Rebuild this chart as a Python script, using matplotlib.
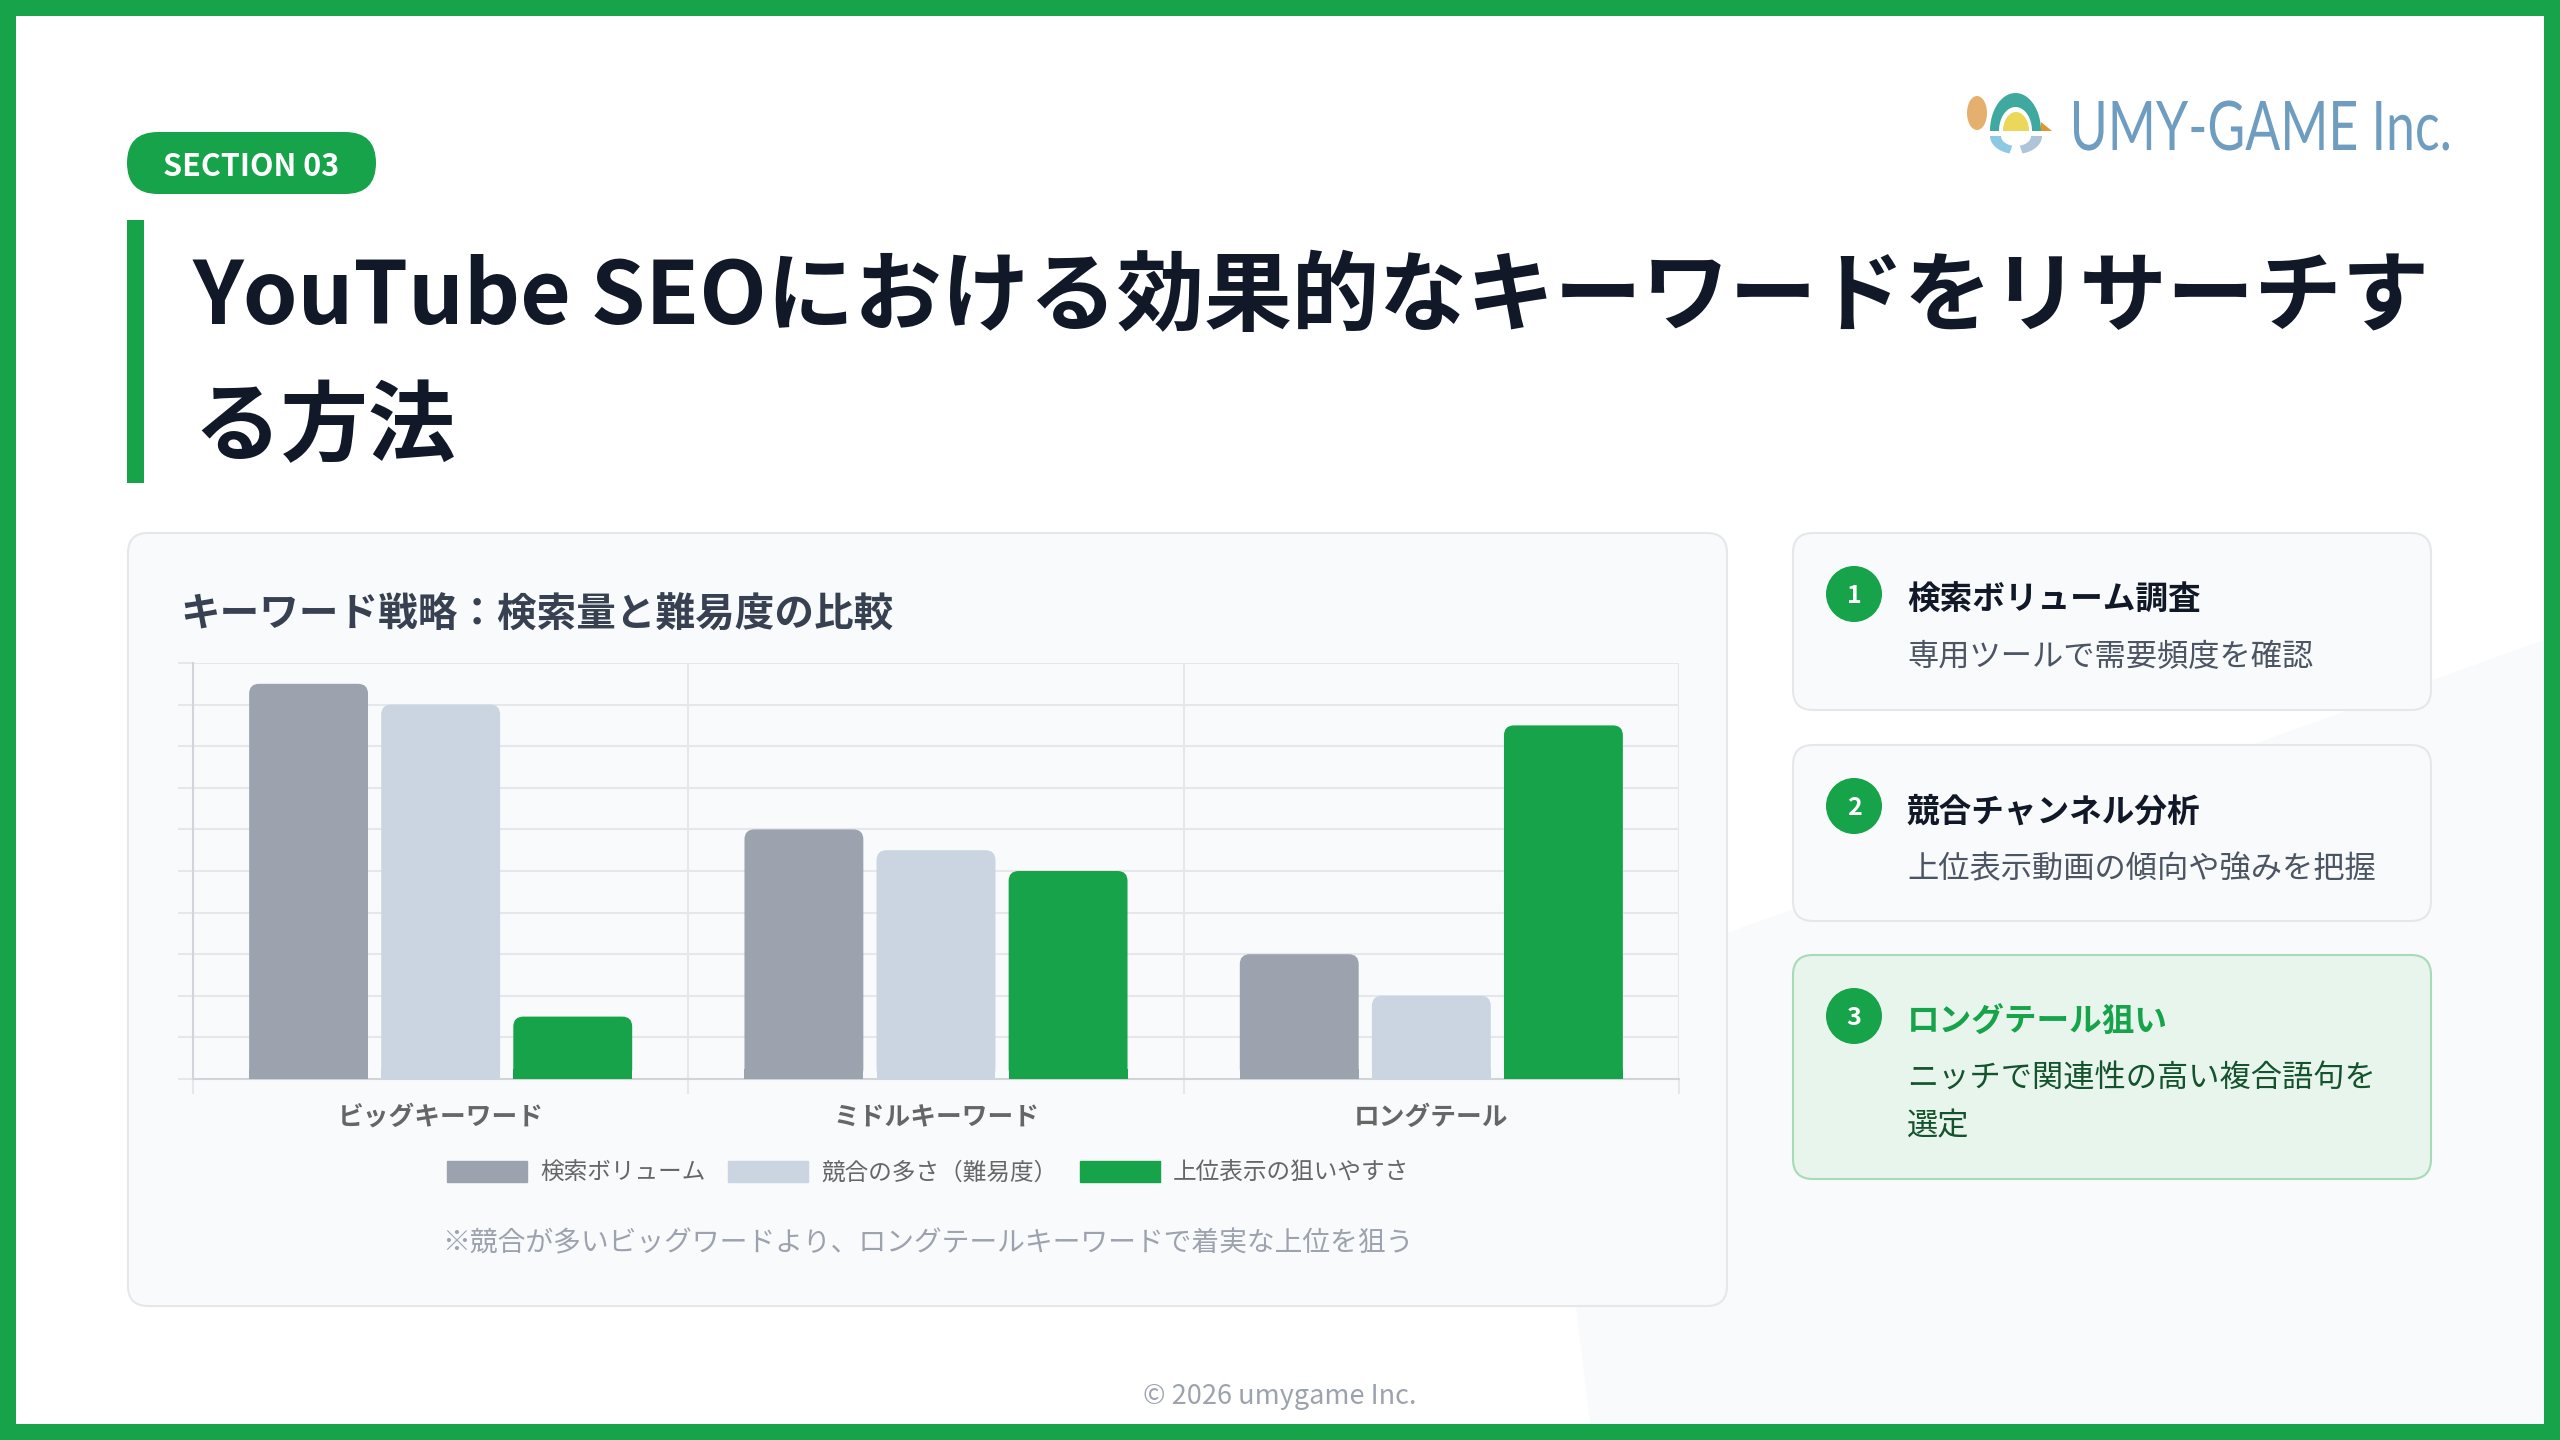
import numpy as np
import matplotlib
matplotlib.use('Agg')
import matplotlib.pyplot as plt
import matplotlib.patches as mpatches
from matplotlib.textpath import TextPath
from matplotlib.font_manager import FontProperties
from matplotlib.transforms import Affine2D

plt.rcParams['font.family'] = ['Noto Sans CJK JP', 'DejaVu Sans']

# chart data
categories = ['ビッグキーワード', 'ミドルキーワード', 'ロングテール']
search_volume = [95, 60, 30]
competition = [90, 55, 20]
ease_to_rank = [15, 50, 85]
series_labels = ['検索ボリューム', '競合の多さ（難易度）', '上位表示の狙いやすさ']
series_colors = ['#9ca3af', '#cbd5e1', '#16a34a']
y_ticks = list(range(0, 101, 10))

# side cards
step_numbers = ['1', '2', '3']
step_titles = ['検索ボリューム調査', '競合チャンネル分析', 'ロングテール狙い']
step_texts = [['専用ツールで需要頻度を確認'],
              ['上位表示動画の傾向や強みを把握'],
              ['ニッチで関連性の高い複合語句を', '選定']]

GREEN = '#16a34a'
W, H = 2560, 1440
DY = 4  # CJK text sits a little high with va='center'

fig = plt.figure(figsize=(25.6, 14.4), dpi=100)
fig.patch.set_facecolor(GREEN)

# background axes in pixel coordinates (y down)
bg = fig.add_axes([0, 0, 1, 1])
bg.set_xlim(0, W)
bg.set_ylim(H, 0)
bg.axis('off')
bg.add_patch(mpatches.Rectangle((16, 16), W - 32, H - 32, fc='white', ec='none'))

# faint decorative shape bottom right
bg.add_patch(mpatches.Polygon([(1540, 1000), (2544, 640), (2544, 1424), (1590, 1424)],
                              closed=True, fc='#f9fafb', ec='none'))

# section pill
bg.add_patch(mpatches.FancyBboxPatch((127, 132), 249, 62, boxstyle='round,pad=0,rounding_size=31',
                                     fc=GREEN, ec='none'))
bg.text(251.5, 163 + DY, 'SECTION 03', color='white', fontsize=22, fontweight='bold',
        ha='center', va='center')

# title
bg.add_patch(mpatches.Rectangle((127, 220), 17, 263, fc=GREEN, ec='none'))
bg.text(193, 299, 'YouTube SEOにおける効果的なキーワードをリサーチす', fontsize=63,
        fontweight='bold', color='#111827', ha='left', va='center')
bg.text(193, 429, 'る方法', fontsize=63, fontweight='bold', color='#111827',
        ha='left', va='center')


# logo
def half_ellipse(cx, cy, rx, ry, t0, t1, n=60):
    t = np.linspace(t0, t1, n)
    return np.column_stack([cx + rx * np.cos(t), cy - ry * np.sin(t)])


bg.add_patch(mpatches.Ellipse((1977, 113), 20, 34, fc='#e5b06e', ec='none'))
bg.add_patch(mpatches.Polygon(half_ellipse(2015.5, 131, 25.5, 38, 0, np.pi), fc='#3fa9a0', ec='none'))
bg.add_patch(mpatches.Polygon(half_ellipse(2015.5, 131, 16.5, 24, 0, np.pi), fc='white', ec='none'))
bg.add_patch(mpatches.Polygon(half_ellipse(2016, 131, 13, 19, 0, np.pi), fc='#ebd75a', ec='none'))
bg.add_patch(mpatches.Polygon([(2041, 131), (2052, 131), (2041, 122)], fc='#e0962e', ec='none'))
left_ring = np.vstack([half_ellipse(2016, 136, 26, 18, np.pi, 1.42 * np.pi),
                       half_ellipse(2016, 136, 15, 10, 1.42 * np.pi, np.pi)])
right_ring = np.vstack([half_ellipse(2016, 136, 26, 18, 1.58 * np.pi, 2 * np.pi),
                        half_ellipse(2016, 136, 15, 10, 2 * np.pi, 1.58 * np.pi)])
bg.add_patch(mpatches.Polygon(left_ring, fc='#8ec9e3', ec='none'))
bg.add_patch(mpatches.Polygon(right_ring, fc='#adc4d9', ec='none'))

logo_fp = FontProperties(family='Lato', weight='normal')
tp = TextPath((0, 0), 'UMY-GAME Inc.', size=100, prop=logo_fp)
ext = tp.get_extents()
cap = TextPath((0, 0), 'U', size=100, prop=logo_fp).get_extents().y1
tr = Affine2D().translate(-ext.x0, 0).scale((2449 - 2074) / ext.width, -49 / cap).translate(2074, 150)
bg.add_patch(mpatches.PathPatch(tr.transform_path(tp), fc='#6f9dc0', ec='none'))

# chart card
bg.add_patch(mpatches.FancyBboxPatch((128, 533), 1599, 773, boxstyle='round,pad=0,rounding_size=20',
                                     fc='#f9fafb', ec='#e5e7eb', lw=1.5))
bg.text(180, 611 + DY, 'キーワード戦略：検索量と難易度の比較', fontsize=28.5, fontweight='bold',
        color='#374151', ha='left', va='center')

# chart axes
ax_l, ax_r, ax_t, ax_b = 193, 1679, 663, 1079
ax = fig.add_axes([ax_l / W, 1 - ax_b / H, (ax_r - ax_l) / W, (ax_b - ax_t) / H])
ax.set_facecolor('none')
ax.set_zorder(2)

x = np.arange(len(categories))
slot = 0.8 / len(series_labels)
bar_w = slot * 0.9
rx = 10 / ((ax_r - ax_l) / len(categories))
ry = 10 / ((ax_b - ax_t) / 100)
series = [search_volume, competition, ease_to_rank]
for i, (vals, col) in enumerate(zip(series, series_colors)):
    bars = ax.bar(x + (i - 1) * slot, vals, bar_w, color=col)
    for rect in bars:
        x0, w, h = rect.get_x(), rect.get_width(), rect.get_height()
        rect.set_visible(False)
        ax.add_patch(mpatches.FancyBboxPatch((x0, 0), w, h,
                                             boxstyle=f'round,pad=0,rounding_size={rx}',
                                             mutation_aspect=ry / rx, fc=col, ec='none', zorder=3))
        ax.add_patch(mpatches.Rectangle((x0, 0), w, min(h, ry), fc=col, ec='none', zorder=3))

ax.set_xlim(-0.5, 2.5)
ax.set_ylim(0, 100)
ax.set_yticks(y_ticks)
ax.set_yticklabels([])
ax.set_xticks(np.arange(len(categories) + 1) - 0.5)
ax.set_xticklabels([])
ax.set_xticks(x, categories, minor=True)
ax.grid(True, which='major', color='#e5e7eb', lw=1.5)
ax.set_axisbelow(True)
ax.tick_params(which='major', length=10.8, width=1.5, color='#e5e7eb')
ax.tick_params(axis='x', which='minor', length=0, pad=18, labelsize=18.5, labelcolor='#666666')
for lbl in ax.get_xticklabels(minor=True):
    lbl.set_fontweight('bold')
for s in ['top', 'right']:
    ax.spines[s].set_visible(False)
for s in ['left', 'bottom']:
    ax.spines[s].set_color('#d1d5db')
    ax.spines[s].set_linewidth(1.5)

handles = [mpatches.Patch(facecolor=c, edgecolor=c, label=l) for c, l in zip(series_colors, series_labels)]
ax.legend(handles=handles, loc='center',
          bbox_to_anchor=((928 - ax_l) / (ax_r - ax_l), (ax_b - 1173) / (ax_b - ax_t)),
          ncol=3, frameon=False, fontsize=17, handlelength=3.4, handleheight=1.0,
          handletextpad=0.55, columnspacing=0.95, labelcolor='#666666')

bg.text(928, 1239 + DY, '※競合が多いビッグワードより、ロングテールキーワードで着実な上位を狙う',
        fontsize=20, color='#9ca3af', ha='center', va='center')

# right side step cards
card_tops = [533, 745, 955]
card_bottoms = [710, 921, 1179]
for i, num in enumerate(step_numbers):
    top, bot = card_tops[i], card_bottoms[i]
    hl = i == 2
    bg.add_patch(mpatches.FancyBboxPatch((1793, top), 638, bot - top,
                                         boxstyle='round,pad=0,rounding_size=20',
                                         fc='#e8f5ec' if hl else '#f9fafb',
                                         ec='#a7dbb7' if hl else '#e5e7eb', lw=1.5))
    cy = top + 61
    bg.add_patch(mpatches.Circle((1854, cy), 28, fc=GREEN, ec='none'))
    bg.text(1854, cy + 2, num, color='white', fontsize=18, fontweight='bold', ha='center', va='center')
    bg.text(1907, cy + 2 + DY, step_titles[i], fontsize=23.5, fontweight='bold',
            color=GREEN if hl else '#111827', ha='left', va='center')
    for j, line in enumerate(step_texts[i]):
        bg.text(1907, cy + 59 + DY + j * 47, line, fontsize=22.5,
                color='#14532d' if hl else '#4b5563', ha='left', va='center')

bg.text(1280, 1393 + DY, '© 2026 umygame Inc.', fontsize=19.5, color='#9ca3af', ha='center', va='center')

fig.savefig('out.png', dpi=100, facecolor=fig.get_facecolor())
